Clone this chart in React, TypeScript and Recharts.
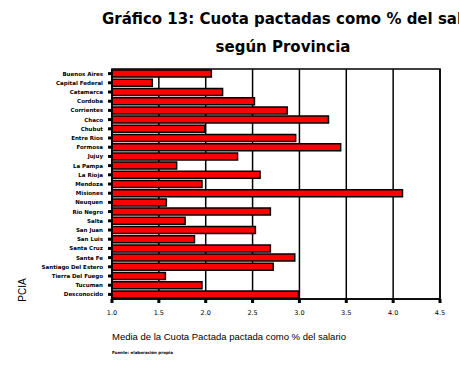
import { BarChart, Bar, XAxis, YAxis, CartesianGrid, ReferenceArea } from 'recharts'

const provincias = [
  'Buenos Aires', 'Capital Federal', 'Catamarca', 'Cordoba', 'Corrientes', 'Chaco', 'Chubut',
  'Entre Rios', 'Formosa', 'Jujuy', 'La Pampa', 'La Rioja', 'Mendoza', 'Misiones', 'Neuquen',
  'Rio Negro', 'Salta', 'San Juan', 'San Luis', 'Santa Cruz', 'Santa Fe', 'Santiago Del Estero',
  'Tierra Del Fuego', 'Tucuman', 'Desconocido',
]
const cuota = [
  2.06, 1.43, 2.18, 2.52, 2.87, 3.31, 1.99, 2.96, 3.44, 2.34, 1.69, 2.58, 1.96,
  4.10, 1.58, 2.69, 1.78, 2.53, 1.88, 2.69, 2.95, 2.72, 1.57, 1.96, 2.99,
]
const xTicks = [1, 1.5, 2, 2.5, 3, 3.5, 4, 4.5]

const data = provincias.map((name, i) => ({ name, cuota: cuota[i] }))

const YTick = ({ x, y, payload }: any) => (
  <text x={x} y={y} dy={2} textAnchor="end" fontSize={5.5} fontWeight="bold"
    fontFamily="DejaVu Sans" fill="#000">
    {payload.value}
  </text>
)

export default function App() {
  return (
    <div style={{ position: 'absolute', left: 0, top: 0, width: 459, height: 368, overflow: 'hidden', background: '#fff' }}>
      <BarChart width={459} height={368} data={data} layout="vertical"
        margin={{ top: 69, right: 19, bottom: 49, left: 0 }} barCategoryGap="12%">
        <CartesianGrid horizontal={false} stroke="#000" strokeWidth={1.5} />
        <XAxis type="number" domain={[1, 4.5]} ticks={xTicks} height={20}
          tickFormatter={v => v.toFixed(1)} tickSize={4} tickMargin={7}
          tick={{ fontSize: 6.5, fill: '#000', fontFamily: 'DejaVu Sans' }}
          tickLine={{ stroke: '#000', strokeWidth: 3 }}
          axisLine={{ stroke: '#000', strokeWidth: 1.5 }} />
        <YAxis type="category" dataKey="name" width={112} interval={0}
          tickSize={4} tickMargin={5} tick={<YTick />}
          tickLine={{ stroke: '#000', strokeWidth: 3 }}
          axisLine={{ stroke: '#000', strokeWidth: 1.5 }} />
        <ReferenceArea x1={1} x2={4.5} fill="none" stroke="#000" strokeWidth={1.5} ifOverflow="visible" />
        <Bar dataKey="cuota" fill="#ff0000" stroke="#000" strokeWidth={1.5} isAnimationActive={false} />
      </BarChart>
      <svg width={459} height={368} style={{ position: 'absolute', left: 0, top: 0, pointerEvents: 'none' }}>
        <text x={102} y={24} fontSize={15} fontWeight={900} fontFamily="DejaVu Sans" fill="#000">
          Gráfico 13: Cuota pactadas como % del salario
        </text>
        <text x={283} y={52} textAnchor="middle" fontSize={15} fontWeight={900} fontFamily="DejaVu Sans" fill="#000">
          según Provincia
        </text>
        <text transform="translate(26,290) rotate(-90)" textAnchor="middle" fontSize={10}
          fontFamily="Liberation Sans" fill="#000">
          PCIA
        </text>
        <text x={112} y={340} fontSize={9.5} fontFamily="Liberation Sans" fill="#000">
          Media de la Cuota Pactada pactada como % del salario
        </text>
        <text x={112} y={354} fontSize={4} fontWeight="bold" fontFamily="DejaVu Sans" fill="#000">
          Fuente: elaboración propia
        </text>
      </svg>
    </div>
  )
}
